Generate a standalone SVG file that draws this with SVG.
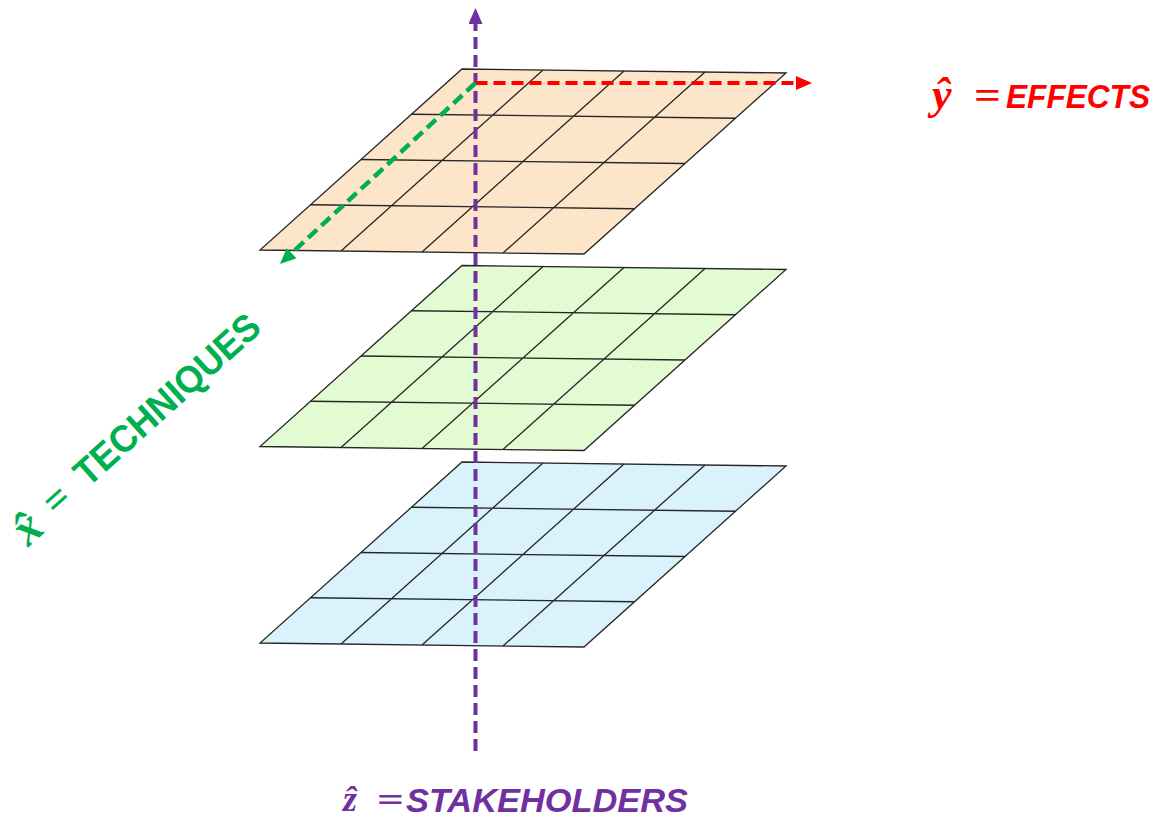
<svg xmlns="http://www.w3.org/2000/svg" xmlns:xlink="http://www.w3.org/1999/xlink" width="1159" height="820" viewBox="0 0 1159 820">
<style>
.plane{stroke:#262626;stroke-width:1.3;stroke-linejoin:miter}
.grid{fill:none;stroke:#262626;stroke-width:1.3}
.peach{fill:#FDE5CA}
.green{fill:#E3FBD2}
.blue{fill:#D9F2FC}
.axis{fill:none;stroke-dasharray:12 6;stroke-linecap:butt}
.word{font-family:"Liberation Sans",Arial,sans-serif;font-weight:bold}
.math{font-family:"Liberation Serif","Times New Roman",serif;font-weight:bold}
</style>
<defs>
<path id="gridlines" d="M411.5,114.25 L735.5,118.25 M361,159.5 L685,163.5 M310.5,204.75 L634.5,208.75 M543,70 L341,251 M624,71 L422,252 M705,72 L503,253"/>
<polygon id="outline" points="462,69 786,73 584,254 260,250"/>
<marker id="mPurple" viewBox="0 0 16 14" markerWidth="16" markerHeight="14" refX="5" refY="7" orient="auto" markerUnits="userSpaceOnUse"><path d="M0,0 L16,7 L0,14 z" fill="#7030A0"/></marker>
<marker id="mRed" viewBox="0 0 16 14" markerWidth="16" markerHeight="14" refX="5" refY="7" orient="auto" markerUnits="userSpaceOnUse"><path d="M0,0 L16,7 L0,14 z" fill="#FF0000"/></marker>
<marker id="mGreen" viewBox="0 0 16 14" markerWidth="16" markerHeight="14" refX="5" refY="7" orient="auto" markerUnits="userSpaceOnUse"><path d="M0,0 L16,7 L0,14 z" fill="#00B050"/></marker>
</defs>
<rect width="1159" height="820" fill="#FFFFFF"/>
<g id="plane-bottom" transform="translate(0,393)">
<use xlink:href="#outline" href="#outline" class="plane blue"/>
<use xlink:href="#gridlines" href="#gridlines" class="grid"/>
</g>
<g id="plane-middle" transform="translate(0,196.5)">
<use xlink:href="#outline" href="#outline" class="plane green"/>
<use xlink:href="#gridlines" href="#gridlines" class="grid"/>
</g>
<g id="plane-top">
<use xlink:href="#outline" href="#outline" class="plane peach"/>
<use xlink:href="#gridlines" href="#gridlines" class="grid"/>
</g>
<g id="connectors">
<line x1="475.5" y1="751" x2="475.5" y2="19" class="axis" stroke="#7030A0" stroke-width="4" marker-end="url(#mPurple)"/>
<line x1="475.5" y1="83" x2="801" y2="83" class="axis" stroke="#FF0000" stroke-width="4" marker-end="url(#mRed)"/>
<line x1="475.5" y1="83" x2="288" y2="256.5" class="axis" stroke="#00B050" stroke-width="4.5" marker-end="url(#mGreen)"/>
</g>
<g id="label-y" fill="#FF0000">
<text x="932" y="109" class="math" font-style="italic" font-size="44">ŷ</text>
<text x="974" y="109" class="math" font-size="40" textLength="27" lengthAdjust="spacingAndGlyphs">=</text>
<text x="1006" y="108" class="word" font-style="italic" font-size="34" textLength="144" lengthAdjust="spacingAndGlyphs">EFFECTS</text>
</g>
<g id="label-z" fill="#7030A0">
<text x="343" y="811" class="math" font-style="italic" font-size="36">ẑ</text>
<text x="377" y="811" class="math" font-size="34" textLength="27" lengthAdjust="spacingAndGlyphs">=</text>
<text x="406" y="812" class="word" font-style="italic" font-size="33" textLength="282" lengthAdjust="spacingAndGlyphs">STAKEHOLDERS</text>
</g>
<g id="label-x" fill="#00B050" transform="translate(88,488) rotate(-42)">
<text x="-72" y="4" class="math" font-style="italic" font-size="48" text-anchor="middle">x̂</text>
<text x="-31" y="1" class="math" font-size="42" text-anchor="middle">=</text>
<text x="0" y="0" class="word" font-size="38" textLength="236" lengthAdjust="spacingAndGlyphs">TECHNIQUES</text>
</g>
</svg>
